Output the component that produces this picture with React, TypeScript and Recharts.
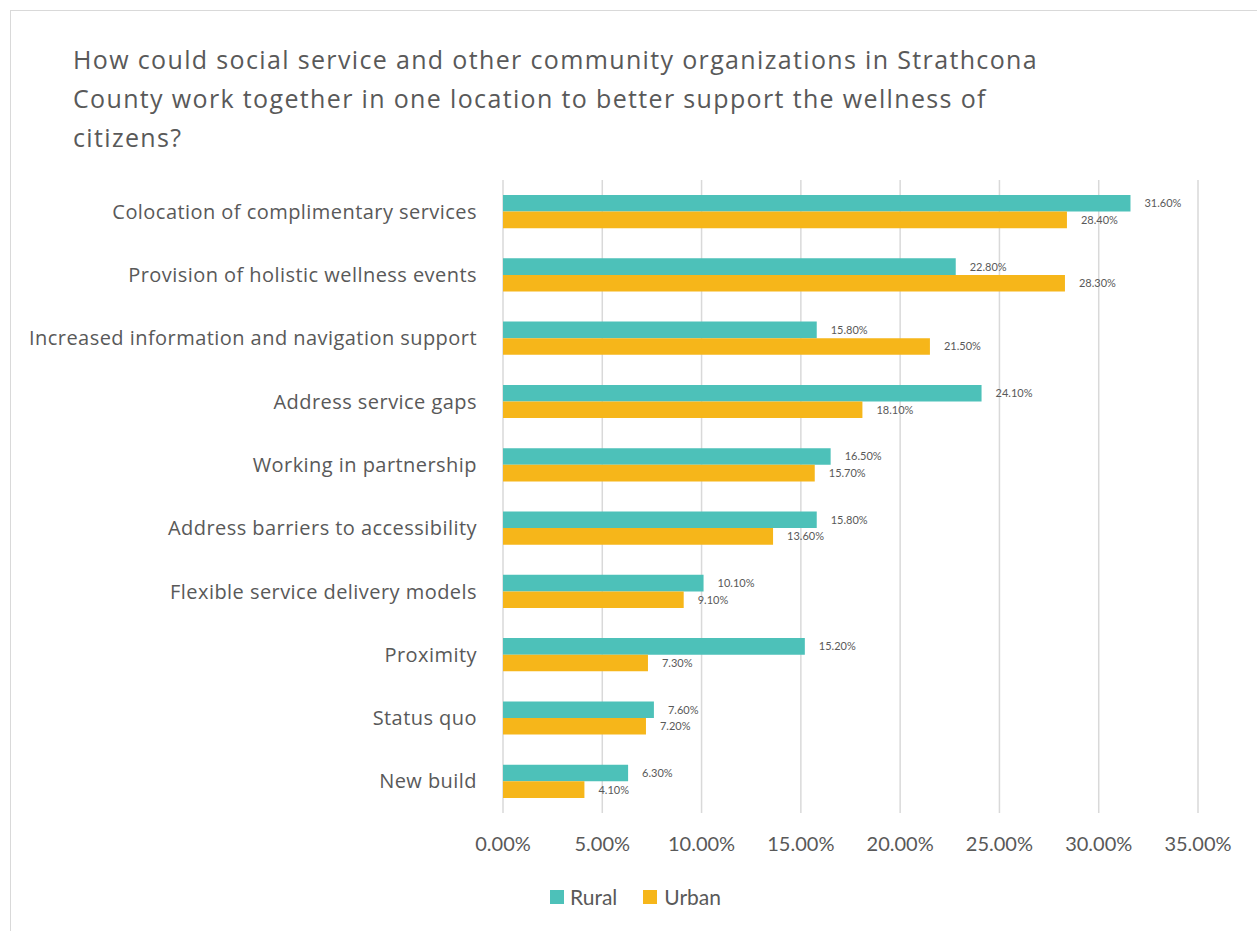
import React from 'react';
import { BarChart, Bar, XAxis, YAxis, CartesianGrid, LabelList } from 'recharts';

const categories = [
  'Colocation of complimentary services',
  'Provision of holistic wellness events ',
  'Increased information and navigation support ',
  'Address service gaps ',
  'Working in partnership',
  'Address barriers to accessibility ',
  'Flexible service delivery models ',
  'Proximity ',
  'Status quo ',
  'New build ',
];
const rural = [31.6, 22.8, 15.8, 24.1, 16.5, 15.8, 10.1, 15.2, 7.6, 6.3];
const urban = [28.4, 28.3, 21.5, 18.1, 15.7, 13.6, 9.1, 7.3, 7.2, 4.1];
const xTicks = [0, 5, 10, 15, 20, 25, 30, 35];

const TEAL = '#4dc1b9';
const GOLD = '#f6b61a';
const TEXT = '#595959';
const FONT = '"Open Sans", Lato, sans-serif';
const NUM_FONT = 'Lato, "Open Sans", sans-serif';

const data = categories.map((name, i) => ({ name, Rural: rural[i], Urban: urban[i] }));

const pct = (v: unknown) => `${Number(v).toFixed(2)}%`;

export default function App() {
  return (
    <div style={{ position: 'absolute', left: 0, top: 0, width: 1257, height: 931, overflow: 'hidden', background: '#fff', fontFamily: FONT }}>
      <div style={{ position: 'absolute', left: 10, top: 10, width: 1400, height: 1000, border: '1.5px solid #d9d9d9' }} />
      <div style={{ position: 'absolute', left: 73, top: 40, fontSize: 25, lineHeight: '39px', letterSpacing: 1.35, color: TEXT, whiteSpace: 'nowrap' }}>
        How could social service and other community organizations in Strathcona
        <br />
        County work together in one location to better support the wellness of
        <br />
        citizens?
      </div>
      <div style={{ position: 'absolute', left: 0, top: 0 }}>
        <BarChart
          width={1257}
          height={931}
          data={data}
          layout="vertical"
          margin={{ top: 180, right: 59, bottom: 88, left: 0 }}
          barSize={16.6}
          barGap={0}
        >
          <CartesianGrid horizontal={false} stroke="#d9d9d9" strokeWidth={1.5} />
          <XAxis
            type="number"
            domain={[0, 35]}
            ticks={xTicks}
            tickFormatter={pct}
            axisLine={false}
            tickLine={false}
            tickSize={0}
            tickMargin={24}
            height={30}
            interval={0}
            tick={{ fill: TEXT, fontSize: 20, fontFamily: NUM_FONT }}
          />
          <YAxis
            type="category"
            dataKey="name"
            width={503}
            axisLine={false}
            tickLine={false}
            tickSize={0}
            tickMargin={26}
            interval={0}
            tick={{ fill: TEXT, fontSize: 20, fontFamily: FONT, letterSpacing: 0.45 }}
          />
          <Bar dataKey="Rural" fill={TEAL} isAnimationActive={false}>
            <LabelList dataKey="Rural" position="right" offset={14} formatter={pct} fill={TEXT} fontSize={11} fontFamily={NUM_FONT} />
          </Bar>
          <Bar dataKey="Urban" fill={GOLD} isAnimationActive={false}>
            <LabelList dataKey="Urban" position="right" offset={14} formatter={pct} fill={TEXT} fontSize={11} fontFamily={NUM_FONT} />
          </Bar>
        </BarChart>
      </div>
      <div style={{ position: 'absolute', left: 550, top: 884, display: 'flex', alignItems: 'center', fontSize: 21, color: TEXT, fontFamily: NUM_FONT }}>
        <span style={{ width: 14, height: 14, background: TEAL, display: 'inline-block', marginRight: 6 }} />
        <span style={{ marginRight: 26 }}>Rural</span>
        <span style={{ width: 14, height: 14, background: GOLD, display: 'inline-block', marginRight: 7 }} />
        <span>Urban</span>
      </div>
    </div>
  );
}
